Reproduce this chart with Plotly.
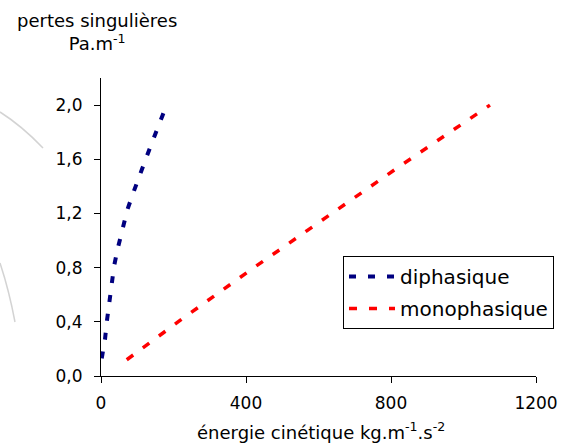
import plotly.graph_objects as go

# Data
di_x = [2, 11, 16, 22, 29, 36, 46, 57, 73, 90, 107, 126, 146, 164, 181]
di_y = [0.13, 0.27, 0.40, 0.54, 0.68, 0.81, 0.94, 1.07, 1.23, 1.36, 1.49, 1.62, 1.76, 1.88, 2.0]

mono_x = [71, 218, 411, 567, 822, 1073]
mono_y = [0.12, 0.41, 0.78, 1.07, 1.545, 2.0]

x_ticks = [0, 400, 800, 1200]
x_ticktext = ["0", "400", "800", "1200"]
y_ticks = [0.0, 0.4, 0.8, 1.2, 1.6, 2.0]
y_ticktext = ["0,0", "0,4", "0,8", "1,2", "1,6", "2,0"]

font_family = "DejaVu Sans, Liberation Sans, Arial, sans-serif"

L, R, T, B = 101, 536, 78, 376
W, H = R - L, B - T


def px(x):
    return (x - L) / W


def py(y):
    return (B - y) / H


fig = go.Figure()
fig.add_trace(go.Scatter(x=di_x, y=di_y, mode="lines", name="diphasique", legendgroup="a",
                         line=dict(color="#000080", width=4, dash="7px,12px")))
fig.add_trace(go.Scatter(x=mono_x, y=mono_y, mode="lines", name="monophasique", legendgroup="b",
                         line=dict(color="#FF0000", width=3.5, dash="8px,12px")))

fig.update_layout(
    width=564, height=446,
    margin=dict(l=L, r=564 - R, t=T, b=446 - B, autoexpand=False),
    paper_bgcolor="white", plot_bgcolor="white",
    font=dict(family=font_family, size=16, color="black"),
    showlegend=True,
    legend=dict(x=px(343), y=py(256), xanchor="left", yanchor="top",
                bordercolor="black", borderwidth=1, bgcolor="white",
                font=dict(size=20), itemwidth=46, tracegroupgap=3,
                traceorder="grouped"),
    xaxis=dict(range=[0, 1200], tickvals=x_ticks, ticktext=x_ticktext,
               showgrid=False, zeroline=False, showline=True, linecolor="black",
               linewidth=1, ticks="outside", ticklen=6, tickcolor="black",
               ticklabelstandoff=6, tickfont=dict(size=17), automargin=False),
    yaxis=dict(range=[0, 2.2], tickvals=y_ticks, ticktext=y_ticktext,
               showgrid=False, zeroline=False, showline=True, linecolor="black",
               linewidth=1, ticks="outside", ticklen=6, tickcolor="black",
               ticklabelstandoff=8, tickfont=dict(size=17), automargin=False),
    annotations=[
        dict(text="pertes singulières<br>Pa.m<sup>-1</sup>", xref="paper", yref="paper",
             x=px(97), y=py(32), xanchor="center", yanchor="middle",
             showarrow=False, font=dict(size=18), align="center"),
        dict(text="énergie cinétique kg.m<sup>-1</sup>.s<sup>-2</sup>", xref="paper", yref="paper",
             x=px(321), y=py(431), xanchor="center", yanchor="middle",
             showarrow=False, font=dict(size=18)),
    ],
    shapes=[
        dict(type="path", xref="paper", yref="paper",
             path="M %f,%f Q %f,%f %f,%f" % (px(0), py(112), px(22), py(126), px(43), py(148)),
             line=dict(color="rgba(200,200,200,0.8)", width=1.5)),
        dict(type="path", xref="paper", yref="paper",
             path="M %f,%f Q %f,%f %f,%f" % (px(0), py(263), px(9), py(290), px(15), py(322)),
             line=dict(color="rgba(200,200,200,0.8)", width=1.5)),
    ],
)

fig.write_html("out.html")
